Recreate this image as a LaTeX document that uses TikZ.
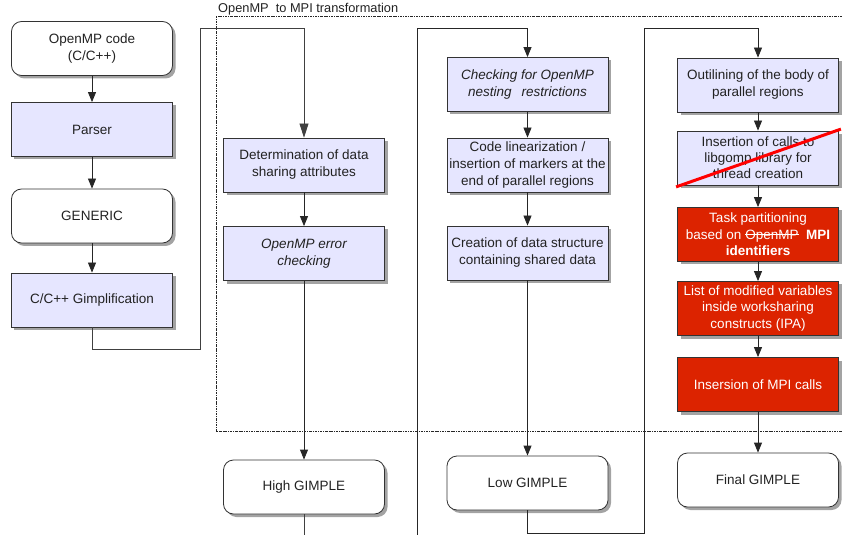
\documentclass[tikz,border=0pt]{standalone}
\usepackage{fontspec}
\setmainfont{Liberation Sans}
\usetikzlibrary{arrows.meta,shadows}
\definecolor{paleblue}{HTML}{E6E6FF}
\definecolor{boxred}{HTML}{DC2300}
\definecolor{edgecol}{HTML}{333333}
\definecolor{txtcol}{HTML}{222222}
\newcommand\mystrike[1]{\setbox0\hbox{#1}\rlap{\raisebox{0.3em}{\rule{\wd0}{0.07em}}}\box0}
\tikzset{
  base/.style={minimum width=161bp, minimum height=54bp, inner sep=0pt, align=center,
    draw=edgecol, line width=0.8bp, text=txtcol,
    font=\fontsize{13.5bp}{17bp}\selectfont,
    drop shadow={shadow xshift=3bp, shadow yshift=-3bp, fill=black!60, opacity=0.6}},
  proc/.style={base, fill=paleblue},
  ital/.style={font=\fontsize{13.5bp}{17bp}\selectfont\itshape},
  term/.style={base, fill=white, rounded corners=10bp},
  hot/.style={base, fill=boxred, text=white},
  flow/.style={draw=black!85, line width=0.8bp, -{Triangle[width=8bp,length=10bp]}},
  bigflow/.style={draw=black!75, line width=0.8bp, -{Triangle[width=9bp,length=14bp]}},
  wire/.style={draw=black!75, line width=0.8bp},
  frame/.style={draw=black!85, line width=0.6bp, dash pattern=on 2.5bp off 1bp on 0.8bp off 1bp},
  crossline/.style={draw=red, line width=3bp},
}
\begin{document}
\begin{tikzpicture}[x=1bp, y=-1bp]
\useasboundingbox (0,0) rectangle (842,535);

% dashed frame of the transformation
\draw[frame] (842,16) -- (216,16) -- (216,431) -- (842,431);
\node[anchor=base west, inner sep=0pt, text=txtcol, font=\fontsize{12.8bp}{14bp}\selectfont] (title) at (218,12.5) {OpenMP\ \ to MPI transformation};

% column 1
\node[term] (omp) at (92,48.5) {OpenMP code\\(C/C++)};
\node[proc] (par) at (92,129.5) {Parser};
\node[term] (gen) at (92,216) {GENERIC};
\node[proc] (gim) at (92,300) {C/C++ Gimplification};

% column 2
\node[proc] (det) at (304,165) {Determination of data\\sharing attributes};
\node[proc, ital] (err) at (304,253.5) {OpenMP error\\checking};
\node[term] (high) at (304,487) {High GIMPLE};

% column 3
\node[proc, ital] (chk) at (527.5,84.5) {Checking for OpenMP\\nesting\hspace{0.75em}restrictions};
\node[proc] (lin) at (527.5,165) {Code linearization /\\insertion of markers at the\\end of parallel regions};
\node[proc] (cre) at (527.5,253) {Creation of data structure\\containing shared data};
\node[term] (low) at (527.5,483) {Low GIMPLE};

% column 4
\node[proc] (out) at (758,85) {Outilining of the body of\\parallel regions};
\node[proc, font=\fontsize{13.5bp}{16bp}\selectfont] (ins) at (758,158) {Insertion of calls to\\libgomp library for\\thread creation};
\node[hot, font=\fontsize{13.5bp}{16.5bp}\selectfont] (task) at (758,234.5) {Task partitioning\\based on \mystrike{OpenMP}\ \ \textbf{MPI}\\\textbf{identifiers}};
\node[hot, font=\fontsize{13.5bp}{16.5bp}\selectfont] (list) at (758,308.5) {List of modified variables\\inside worksharing\\constructs (IPA)};
\node[hot] (mpi) at (758,384.5) {Insersion of MPI calls};
\node[term] (fin) at (758,480) {Final GIMPLE};

\draw[crossline] ([xshift=-1bp,yshift=-1.5bp]ins.south west) -- ([xshift=2bp,yshift=1.5bp]ins.north east);

% helper coordinates for routed connectors
\coordinate (w1a) at (200,349);
\coordinate (w1b) at (200,28);
\coordinate (hend) at (304,536);
\coordinate (w2a) at (417,536);
\coordinate (w2b) at (417,28);
\coordinate (w3a) at (644,533);
\coordinate (w3b) at (644,28);

% connectors
\draw[flow] (omp) -- (par);
\draw[flow] (par) -- (gen);
\draw[flow] (gen) -- (gim);
\draw[bigflow] (gim.south) |- (w1a) -- (w1b) -| (det.north);
\draw[flow] (det) -- (err);
\draw[flow] (err) -- (high);
\draw[wire] (high.south) -- (hend);
\draw[flow] (w2a) -- (w2b) -| (chk.north);
\draw[flow] (chk) -- (lin);
\draw[flow] (lin) -- (cre);
\draw[flow] (cre) -- (low);
\draw[flow] (low.south) |- (w3a) -- (w3b) -| (out.north);
\draw[flow] (out) -- (ins);
\draw[flow] (ins) -- (task);
\draw[flow] (task) -- (list);
\draw[flow] (list) -- (mpi);
\draw[flow] (mpi) -- (fin);
\end{tikzpicture}
\end{document}
